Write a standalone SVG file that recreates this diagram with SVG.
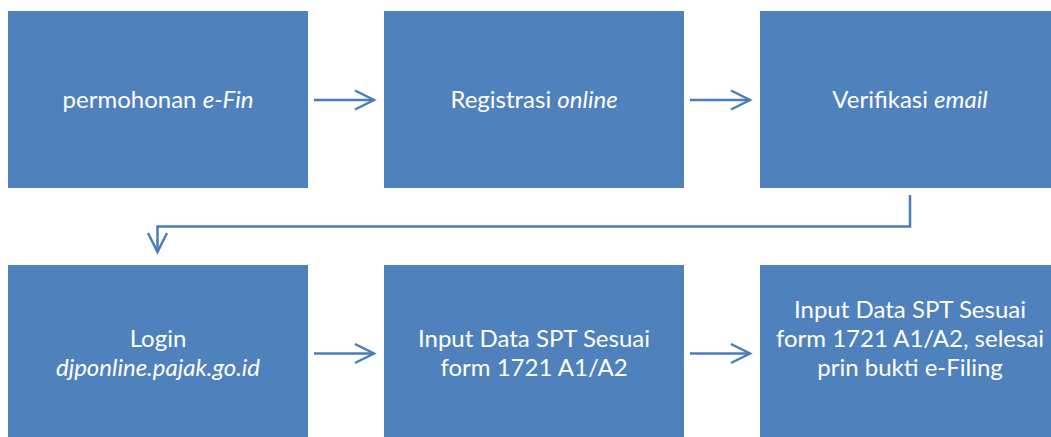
<svg xmlns="http://www.w3.org/2000/svg" width="1051" height="437" viewBox="0 0 1051 437">
  <defs>
    <marker id="arr" markerUnits="userSpaceOnUse" markerWidth="30" markerHeight="30" viewBox="-25 -15 30 30" refX="0" refY="0" orient="auto">
      <path d="M-19,-9.5 L0,0 L-19,9.5" fill="none" stroke="#4A7EBB" stroke-width="2.5"/>
    </marker>
  </defs>
  <style>
    .box { fill: #4F81BD; }
    .t { font-family: Lato, "Open Sans", "Noto Sans", sans-serif; font-size: 24px; fill: #FFFFFF; text-anchor: middle; }
    .i { font-style: italic; }
    .c { fill: none; stroke: #4A7EBB; stroke-width: 2.5; marker-end: url(#arr); }
  </style>
  <rect width="1051" height="437" fill="#FFFFFF"/>
  <g id="n1"><rect class="box" x="8" y="11" width="300" height="177"/><text class="t" x="158" y="107.5">permohonan <tspan class="i">e-Fin</tspan></text></g>
  <g id="n2"><rect class="box" x="384" y="11" width="300" height="177"/><text class="t" x="534" y="107.5">Registrasi <tspan class="i">online</tspan></text></g>
  <g id="n3"><rect class="box" x="760" y="11" width="300" height="177"/><text class="t" x="910" y="107.5">Verifikasi <tspan class="i">email</tspan></text></g>
  <g id="n4"><rect class="box" x="8" y="265" width="300" height="177"/><text class="t" x="158" y="346.5">Login</text><text class="t i" x="158" y="375.5">djponline.pajak.go.id</text></g>
  <g id="n5"><rect class="box" x="384" y="265" width="300" height="177"/><text class="t" x="534" y="346.5">Input Data SPT Sesuai</text><text class="t" x="534" y="375.5">form 1721 A1/A2</text></g>
  <g id="n6"><rect class="box" x="760" y="265" width="300" height="177"/><text class="t" x="910" y="317.5">Input Data SPT Sesuai</text><text class="t" x="910" y="346.5">form 1721 A1/A2, selesai</text><text class="t" x="910" y="375.5">prin bukti e-Filing</text></g>
  <g id="connectors">
    <line class="c" x1="314" y1="100" x2="374" y2="100"/>
    <line class="c" x1="690" y1="100" x2="750" y2="100"/>
    <polyline class="c" points="910,195 910,226.5 157.5,226.5 157.5,252"/>
    <line class="c" x1="314" y1="353.5" x2="374" y2="353.5"/>
    <line class="c" x1="690" y1="353.5" x2="750" y2="353.5"/>
  </g>
</svg>
